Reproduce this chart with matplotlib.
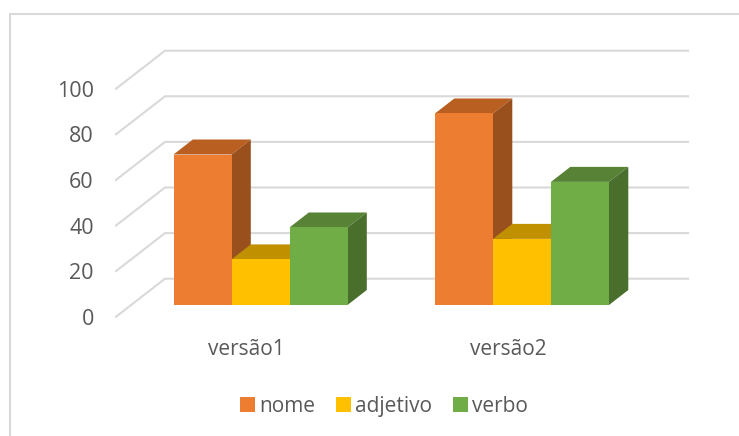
import matplotlib
matplotlib.use("Agg")
import matplotlib.pyplot as plt
from matplotlib.patches import Patch, Rectangle
import numpy as np

categories = ["versão1", "versão2"]
series_names = ["nome", "adjetivo", "verbo"]
nome = [66, 84]
adjetivo = [20, 29]
verbo = [34, 54]
yticks = [0, 20, 40, 60, 80, 100]

face = ["#ED7D31", "#FFC000", "#70AD47"]
top = ["#B85F21", "#C09000", "#588235"]
side = ["#9A501C", "#A07800", "#4A6F2C"]
GRID = "#D9D9D9"
TEXT = "#595959"

W, H = 739, 436
plt.rcParams["font.family"] = ["Open Sans", "DejaVu Sans"]
fig = plt.figure(figsize=(W / 100, H / 100), dpi=100)

# front plane of the chart box, in pixels
L, R, Y0, Y100 = 116, 639, 316.7, 88.7
ax = fig.add_axes([L / W, 1 - Y0 / H, (R - L) / W, (Y0 - Y100) / H])
ax.set_xlim(-0.5, 1.5)
ax.set_ylim(0, 100)
ax.patch.set_alpha(0)
for s in ax.spines.values():
    s.set_visible(False)

px = 2 / (R - L)      # x units per pixel
py = 100 / (Y0 - Y100)  # y units per pixel
wall_dx, wall_dy = 49 * px, 38 * py
bar_dx, bar_dy = 19.3 * px, 15 * py
off_x, off_y = 13.75 * px, 11.7 * py
bar_w = 58 * px

# walls
for v in yticks:
    ax.plot([-0.5, -0.5 + wall_dx, 1.5 + wall_dx], [v, v + wall_dy, v + wall_dy],
            color=GRID, lw=1.5, clip_on=False, zorder=1, solid_joinstyle="miter")

# bars
values = [nome, adjetivo, verbo]
z = 2
for c in range(len(categories)):
    for i, vals in enumerate(values):
        v = vals[c]
        x0 = c + off_x + (i - 1.5) * bar_w
        x1 = x0 + bar_w
        b = off_y
        t = off_y + v
        ax.fill([x0, x1, x1 + bar_dx, x0 + bar_dx], [t, t, t + bar_dy, t + bar_dy],
                color=top[i], lw=0, clip_on=False, zorder=z)
        ax.fill([x1, x1 + bar_dx, x1 + bar_dx, x1], [b, b + bar_dy, t + bar_dy, t],
                color=side[i], lw=0, clip_on=False, zorder=z)
        ax.fill([x0, x1, x1, x0], [b, b, t, t],
                color=face[i], lw=0, clip_on=False, zorder=z + 0.5)
        z += 1

ax.set_yticks(yticks)
ax.set_xticks(range(len(categories)), categories)
ax.tick_params(axis="both", length=0, labelcolor=TEXT)
ax.tick_params(axis="y", pad=16, labelsize=15.5)
ax.tick_params(axis="x", pad=16, labelsize=15)

handles = [Patch(facecolor=f, edgecolor="none", label=n) for f, n in zip(face, series_names)]
fig.legend(handles=handles, ncols=3, loc="center", bbox_to_anchor=(384 / W, 1 - 406 / H),
           frameon=False, fontsize=15, labelcolor=TEXT, handlelength=0.72, handleheight=0.72,
           handletextpad=0.2, columnspacing=1.0, borderpad=0, borderaxespad=0)

# chart frame
fig.add_artist(Rectangle((10 / W, -0.02), (W + 20) / W, 1.02 - 14.5 / H, transform=fig.transFigure,
                         fill=False, edgecolor=GRID, lw=1.5))

fig.savefig("out.png", dpi=100)
